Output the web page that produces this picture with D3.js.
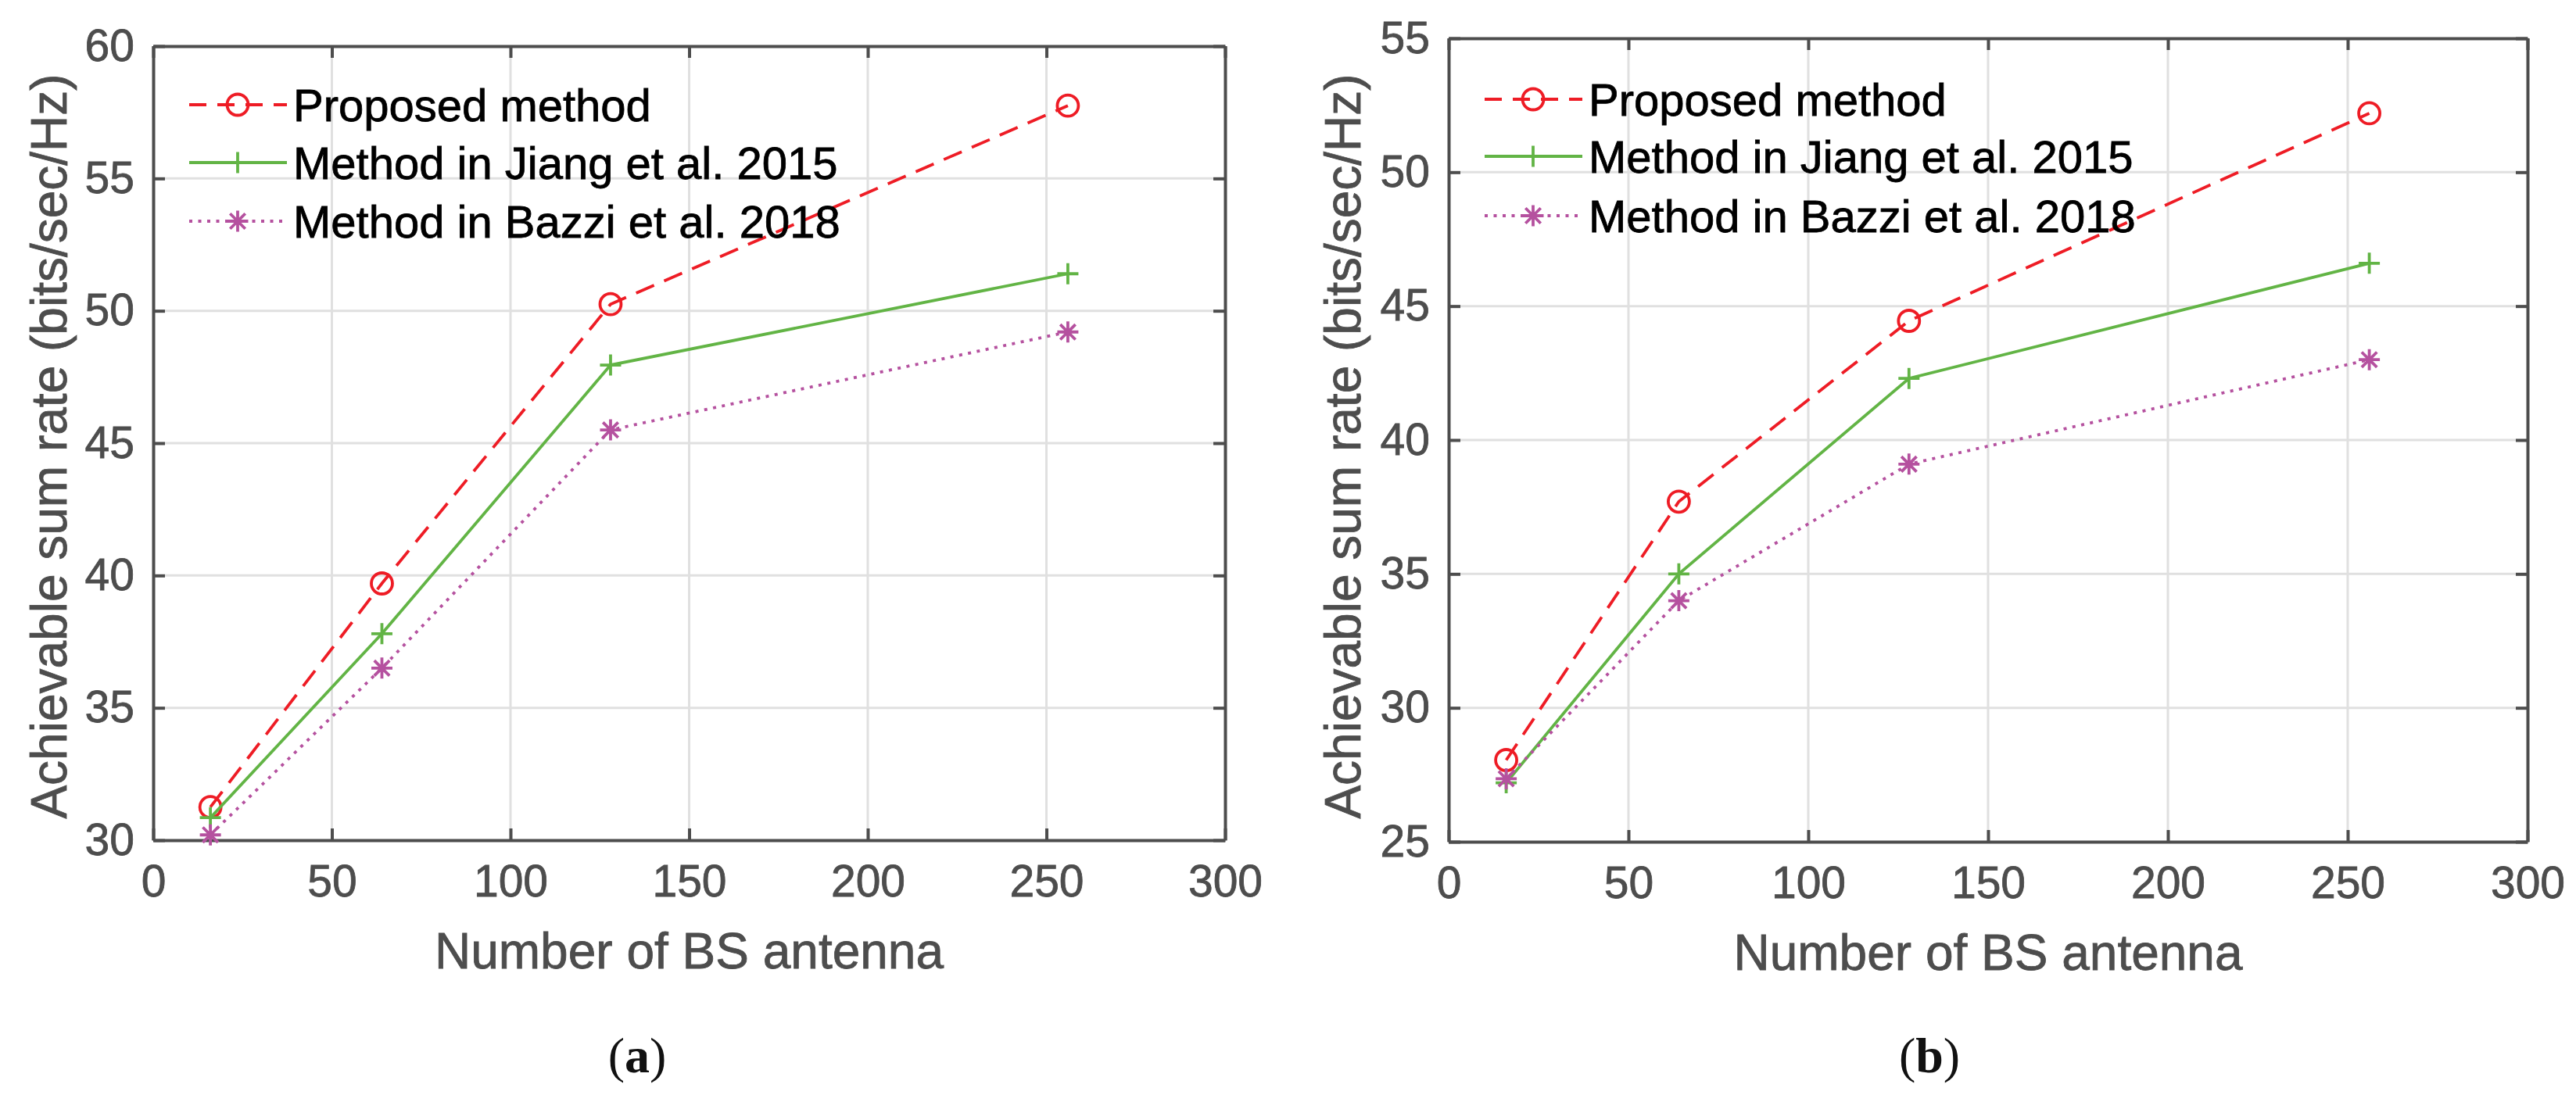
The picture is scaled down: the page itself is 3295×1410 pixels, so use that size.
<!DOCTYPE html>
<html>
<head>
<meta charset="utf-8">
<script src="https://cdn.jsdelivr.net/npm/d3@7"></script>
<style>
  body { margin: 0; background: #fff; }
  text { font-family: "Liberation Sans", Arial, sans-serif; }
</style>
</head>
<body>
<svg id="chart"></svg>
<script>
// data
var antennas = [16, 64, 128, 256];
var seriesNames = ["Proposed method", "Method in Jiang et al. 2015", "Method in Bazzi et al. 2018"];

var proposedA = [31.25, 39.7, 50.25, 57.75];
var jiangA = [30.85, 37.8, 47.95, 51.4];
var bazziA = [30.2, 36.5, 45.5, 49.2];

var proposedB = [28.05, 37.7, 44.45, 52.2];
var jiangB = [27.2, 35.0, 42.3, 46.6];
var bazziB = [27.35, 34.0, 39.1, 43.0];

var xTicks = [0, 50, 100, 150, 200, 250, 300];
var yTicksA = [30, 35, 40, 45, 50, 55, 60];
var yTicksB = [25, 30, 35, 40, 45, 50, 55];

var W = 3295, H = 1410;
var svg = d3.select("#chart").attr("width", W).attr("height", H);

var styles = [
    { color: "#ee1c25", dash: "25,14", marker: "circle" },
    { color: "#62b445", dash: null, marker: "plus" },
    { color: "#b5519f", dash: "4,7.5", marker: "star" }
];

function drawMarker(g, type, color) {
    var r = 13.5;
    if (type == "circle") {
        g.append("circle").attr("r", r).attr("fill", "none")
            .attr("stroke", color).attr("stroke-width", 3.8);
    } else if (type == "plus") {
        g.append("path").attr("d", "M" + (-r) + ",0H" + r + "M0," + (-r) + "V" + r)
            .attr("stroke", color).attr("stroke-width", 3.8);
    } else {
        var k = r * 0.72;
        g.append("path")
            .attr("d", "M" + (-r) + ",0H" + r + "M0," + (-r) + "V" + r +
                "M" + (-k) + "," + (-k) + "L" + k + "," + k +
                "M" + (-k) + "," + k + "L" + k + "," + (-k))
            .attr("stroke", color).attr("stroke-width", 3.8);
    }
}

function drawPanel(p) {
    var x = d3.scaleLinear().domain([0, 300]).range([p.left, p.right]);
    var y = d3.scaleLinear().domain(p.yDomain).range([p.bottom, p.top]);
    var g = svg.append("g");

    // grid
    g.selectAll(".gx").data(xTicks.slice(1, -1)).enter().append("line")
        .attr("x1", d => x(d)).attr("x2", d => x(d))
        .attr("y1", p.top).attr("y2", p.bottom)
        .attr("stroke", "#e0e0e0").attr("stroke-width", 3);
    g.selectAll(".gy").data(p.yTicks.slice(1, -1)).enter().append("line")
        .attr("y1", d => y(d)).attr("y2", d => y(d))
        .attr("x1", p.left).attr("x2", p.right)
        .attr("stroke", "#e0e0e0").attr("stroke-width", 3);

    // axes (ticks inward, box on)
    var tk = 15;
    var axB = g.append("g").attr("transform", "translate(0," + p.bottom + ")")
        .call(d3.axisBottom(x).tickValues(xTicks).tickSize(-tk).tickPadding(32).tickSizeOuter(0));
    var axT = g.append("g").attr("transform", "translate(0," + p.top + ")")
        .call(d3.axisTop(x).tickValues(xTicks).tickSize(-tk).tickFormat("").tickSizeOuter(0));
    var axL = g.append("g").attr("transform", "translate(" + p.left + ",0)")
        .call(d3.axisLeft(y).tickValues(p.yTicks).tickSize(-tk).tickPadding(24).tickSizeOuter(0));
    var axR = g.append("g").attr("transform", "translate(" + p.right + ",0)")
        .call(d3.axisRight(y).tickValues(p.yTicks).tickSize(-tk).tickFormat("").tickSizeOuter(0));
    [axB, axT, axL, axR].forEach(function(a) {
        a.select(".domain").attr("stroke", "#4d4d4d").attr("stroke-width", 4);
        a.selectAll(".tick line").attr("stroke", "#4d4d4d").attr("stroke-width", 4);
        a.selectAll(".tick text").attr("fill", "#4d4d4d")
            .attr("stroke", "#4d4d4d").attr("stroke-width", 0.8)
            .style("font-size", "57px").style("font-family", "Liberation Sans, Arial, sans-serif");
    });

    // series
    p.series.forEach(function(vals, i) {
        var st = styles[i];
        var pts = antennas.map((a, j) => [a, vals[j]]);
        var line = d3.line().x(d => x(d[0])).y(d => y(d[1]));
        var path = g.append("path").datum(pts).attr("d", line)
            .attr("fill", "none").attr("stroke", st.color).attr("stroke-width", 3.8);
        if (st.dash) path.attr("stroke-dasharray", st.dash);
        pts.forEach(function(d) {
            var m = g.append("g").attr("transform", "translate(" + x(d[0]) + "," + y(d[1]) + ")");
            drawMarker(m, st.marker, st.color);
        });
    });

    // legend
    seriesNames.forEach(function(name, i) {
        var st = styles[i];
        var ly = p.legendY[i];
        var l = g.append("line").attr("x1", p.legendX).attr("x2", p.legendX + 125)
            .attr("y1", ly).attr("y2", ly)
            .attr("stroke", st.color).attr("stroke-width", 3.8);
        if (st.dash) l.attr("stroke-dasharray", st.dash == "25,14" ? "22,14" : st.dash);
        var m = g.append("g").attr("transform", "translate(" + (p.legendX + 62) + "," + ly + ")");
        drawMarker(m, st.marker, st.color);
        g.append("text").attr("x", p.legendX + 133).attr("y", ly + 21)
            .attr("fill", "#000").attr("stroke", "#000").attr("stroke-width", 0.8)
            .style("font-size", "58px").text(name);
    });

    // axis labels
    g.append("text").attr("x", (p.left + p.right) / 2).attr("y", p.bottom + 164)
        .attr("text-anchor", "middle").attr("fill", "#4d4d4d")
        .attr("stroke", "#4d4d4d").attr("stroke-width", 0.8).style("font-size", "64px")
        .text("Number of BS antenna");
    g.append("text")
        .attr("transform", "translate(" + p.yLabelX + "," + 571 + ") rotate(-90)")
        .attr("text-anchor", "middle").attr("dy", "0.35em").attr("fill", "#4d4d4d")
        .attr("stroke", "#4d4d4d").attr("stroke-width", 0.8).style("font-size", "64px")
        .text("Achievable sum rate (bits/sec/Hz)");

    // caption
    var cap = g.append("text").attr("x", p.capX).attr("y", 1372)
        .attr("text-anchor", "middle").attr("fill", "#111")
        .style("font-family", "Liberation Serif, serif").style("font-size", "64px");
    cap.append("tspan").text("(");
    cap.append("tspan").attr("font-weight", "bold").text(p.cap);
    cap.append("tspan").text(")");
}

drawPanel({
    left: 196, right: 1567, top: 59, bottom: 1075,
    yDomain: [30, 60], yTicks: yTicksA,
    series: [proposedA, jiangA, bazziA],
    legendX: 242, legendY: [134, 208, 283],
    yLabelX: 63, capX: 815, cap: "a"
});

drawPanel({
    left: 1853, right: 3233, top: 49, bottom: 1077,
    yDomain: [25, 55], yTicks: yTicksB,
    series: [proposedB, jiangB, bazziB],
    legendX: 1899, legendY: [127, 200, 276],
    yLabelX: 1718, capX: 2468, cap: "b"
});
</script>
</body>
</html>
